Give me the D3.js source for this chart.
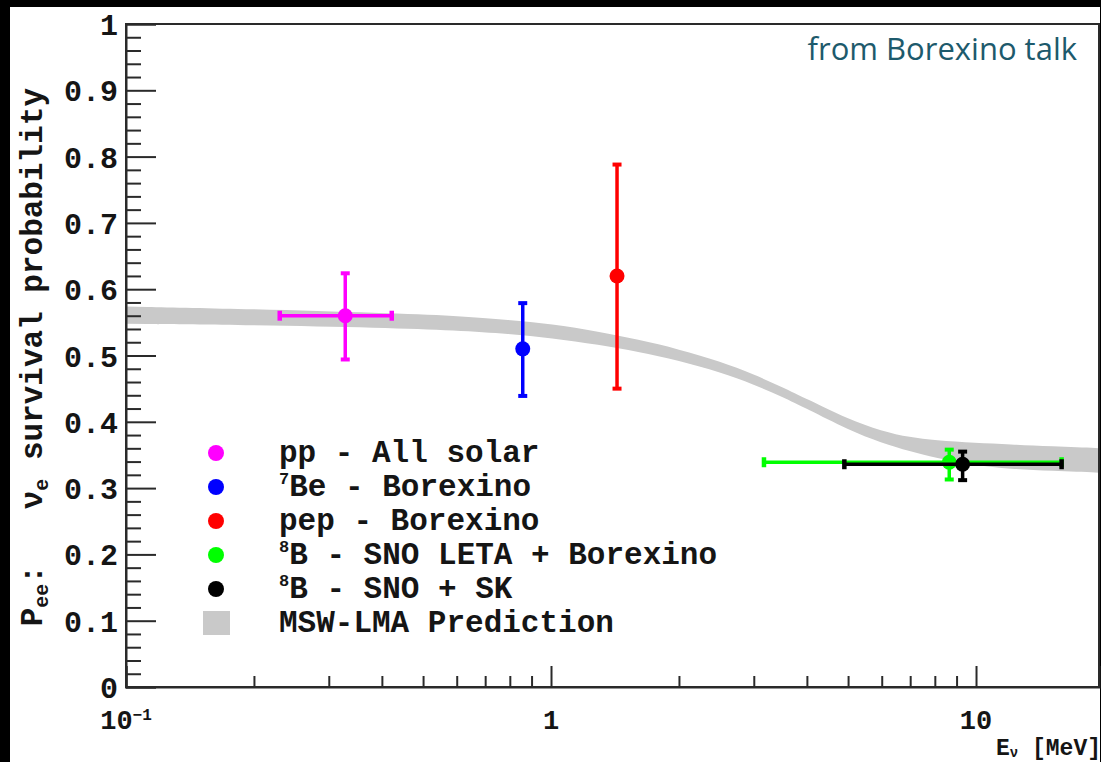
<!DOCTYPE html>
<html>
<head>
<meta charset="utf-8">
<script src="https://cdn.jsdelivr.net/npm/d3@7"></script>
<style>
  html, body { margin: 0; padding: 0; background: #000; }
  svg { display: block; }
  .mono { font-family: "Liberation Mono", "Courier New", "DejaVu Sans Mono", monospace; font-weight: bold; fill: #151515; }
</style>
</head>
<body>
<script>
// Solar neutrino survival probability measurements (energy in MeV)
const seriesNames = ["pp", "7Be", "pep", "8B-LETA", "8B-SNO-SK"];
const energy      = [0.328, 0.858, 1.43, 8.65, 9.30];
const energyLow   = [0.230, null,  null, 3.17, 4.90];
const energyHigh  = [0.422, null,  null, 15.9, 15.9];
const pee         = [0.560, 0.510, 0.620, 0.339, 0.336];
const peeLow      = [0.494, 0.439, 0.450, 0.313, 0.312];
const peeHigh     = [0.624, 0.579, 0.788, 0.358, 0.355];
const colors      = ["#ff00ff", "#0000ff", "#ff0000", "#00ff00", "#000000"];

// MSW-LMA prediction band
const bandEnergy = [0.1, 0.2, 0.4, 0.6, 0.8, 1.0, 1.3, 1.6, 2.0, 2.5, 3.0, 3.5, 4.0, 5.0, 6.0, 7.0, 8.0, 10, 12, 15, 20];
const bandLow    = [0.548, 0.546, 0.542, 0.538, 0.5325, 0.5265, 0.516, 0.506, 0.4925, 0.475, 0.4565, 0.4375, 0.4195, 0.388, 0.368, 0.3555, 0.346, 0.334, 0.329, 0.326, 0.323];
const bandHigh   = [0.574, 0.570, 0.564, 0.560, 0.5535, 0.5475, 0.536, 0.524, 0.5095, 0.491, 0.4715, 0.4525, 0.4345, 0.404, 0.386, 0.3765, 0.372, 0.368, 0.366, 0.363, 0.360];

// Axis ticks and labels
const yMajorTicks = [0, 0.1, 0.2, 0.3, 0.4, 0.5, 0.6, 0.7, 0.8, 0.9, 1];
const yTickLabels = ["0", "0.1", "0.2", "0.3", "0.4", "0.5", "0.6", "0.7", "0.8", "0.9", "1"];
const xMajorTicks = [0.1, 1, 10];
const xMinorTicks = [0.2, 0.3, 0.4, 0.5, 0.6, 0.7, 0.8, 0.9, 2, 3, 4, 5, 6, 7, 8, 9];

// Legend
const legendLabels = [
  [["pp - All solar"]],
  [["7", "sup"], ["Be - Borexino"]],
  [["pep - Borexino"]],
  [["8", "sup"], ["B - SNO LETA + Borexino"]],
  [["8", "sup"], ["B - SNO + SK"]]
];
const bandLabel = "MSW-LMA Prediction";

const W = 1101, H = 762;
const L = 126, R = 1099, T = 24, B = 687;

const svg = d3.select("body").append("svg").attr("width", W).attr("height", H);

// black surround and white canvas
svg.append("rect").attr("width", W).attr("height", H).attr("fill", "#000");
svg.append("rect").attr("x", 10).attr("y", 7).attr("width", 1090).attr("height", H - 7).attr("fill", "#fff");

const x = d3.scaleLog().domain([0.1, 19.47]).range([L, R]);
const y = d3.scaleLinear().domain([0, 1]).range([B, T]);

svg.append("clipPath").attr("id", "frame")
  .append("rect").attr("x", L).attr("y", T).attr("width", R - L).attr("height", B - T);

// prediction band
const band = bandEnergy.map((e, i) => ({ e, lo: bandLow[i], hi: bandHigh[i] }));
svg.append("path")
  .datum(band)
  .attr("clip-path", "url(#frame)")
  .attr("fill", "#c9c9c9")
  .attr("d", d3.area().x(d => x(d.e)).y0(d => y(d.lo)).y1(d => y(d.hi)).curve(d3.curveBasis));

// data points with error bars
const pts = seriesNames.map((n, i) => ({
  n, e: energy[i], eLo: energyLow[i], eHi: energyHigh[i],
  p: pee[i], pLo: peeLow[i], pHi: peeHigh[i], c: colors[i]
}));
const gp = svg.append("g");
pts.forEach(d => {
  const g = gp.append("g").attr("stroke", d.c).attr("fill", d.c);
  const cx = x(d.e), cy = y(d.p);
  if (d.eLo != null) {
    g.append("line").attr("x1", x(d.eLo)).attr("x2", x(d.eHi)).attr("y1", cy).attr("y2", cy).attr("stroke-width", 3.5);
    [d.eLo, d.eHi].forEach(v => g.append("line")
      .attr("x1", x(v)).attr("x2", x(v)).attr("y1", cy - 5).attr("y2", cy + 5).attr("stroke-width", 4.5));
  }
  g.append("line").attr("x1", cx).attr("x2", cx).attr("y1", y(d.pLo)).attr("y2", y(d.pHi)).attr("stroke-width", 3.5);
  [d.pLo, d.pHi].forEach(v => g.append("line")
    .attr("x1", cx - 4.5).attr("x2", cx + 4.5).attr("y1", y(v)).attr("y2", y(v)).attr("stroke-width", 4));
  g.append("circle").attr("cx", cx).attr("cy", cy).attr("r", 7.5).attr("stroke", "none");
});

// frame
svg.append("rect").attr("x", L).attr("y", T).attr("width", R - L).attr("height", B - T)
  .attr("fill", "none").attr("stroke", "#2a2a2a").attr("stroke-width", 2);

// y axis
const yMinor = d3.range(0, 101, 2).map(v => v / 100).filter(v => yMajorTicks.indexOf(v) < 0);
svg.append("g").attr("transform", `translate(${L},0)`)
  .call(d3.axisLeft(y).tickValues(yMinor).tickSize(-15).tickFormat(""))
  .call(g => g.select(".domain").remove())
  .call(g => g.selectAll("line").attr("stroke", "#2a2a2a").attr("stroke-width", 2));
svg.append("g").attr("transform", `translate(${L},0)`)
  .call(d3.axisLeft(y).tickValues(yMajorTicks).tickSize(-30).tickPadding(8)
    .tickFormat((d, i) => yTickLabels[i]))
  .call(g => g.select(".domain").attr("stroke", "#2a2a2a").attr("stroke-width", 2))
  .call(g => g.selectAll("line").attr("stroke", "#2a2a2a").attr("stroke-width", 2))
  .call(g => g.selectAll("text").attr("class", "mono").attr("font-size", 30).attr("dy", "0.35em"));

// x axis
svg.append("g").attr("transform", `translate(0,${B})`)
  .call(d3.axisBottom(x).tickValues(xMinorTicks).tickSize(-11).tickFormat(""))
  .call(g => g.select(".domain").remove())
  .call(g => g.selectAll("line").attr("stroke", "#2a2a2a").attr("stroke-width", 2));
svg.append("g").attr("transform", `translate(0,${B})`)
  .call(d3.axisBottom(x).tickValues(xMajorTicks).tickSize(-21).tickFormat(""))
  .call(g => g.select(".domain").attr("stroke", "#2a2a2a").attr("stroke-width", 2))
  .call(g => g.selectAll("line").attr("stroke", "#2a2a2a").attr("stroke-width", 2));

xMajorTicks.forEach(v => {
  const t = svg.append("text").attr("class", "mono").attr("font-size", 27)
    .attr("x", x(v)).attr("y", 729).attr("text-anchor", "middle");
  const ex = Math.round(Math.log10(v));
  if (ex < 0) {
    t.append("tspan").text("10");
    t.append("tspan").attr("font-size", 16).attr("dy", -9).text("\u2212" + Math.abs(ex));
  } else {
    t.text(String(Math.pow(10, ex)));
  }
});

// axis titles
const xt = svg.append("text").attr("class", "mono").attr("font-size", 23)
  .attr("x", R + 2).attr("y", 755).attr("text-anchor", "end");
xt.append("tspan").text("E");
xt.append("tspan").attr("font-size", 14).attr("dy", 2).text("\u03bd");
xt.append("tspan").attr("dy", -2).text(" [MeV]");

const yt = svg.append("text").attr("class", "mono").attr("font-size", 31)
  .attr("transform", "translate(42,88) rotate(-90)").attr("text-anchor", "end")
  .attr("xml:space", "preserve").style("white-space", "pre");
yt.append("tspan").text("P");
yt.append("tspan").attr("font-size", 20).attr("dy", 6).text("ee");
yt.append("tspan").attr("dy", -6).text(":   ");
yt.append("tspan").text("\u03bd");
yt.append("tspan").attr("font-size", 20).attr("dy", 6).text("e");
yt.append("tspan").attr("dy", -6).text(" survival probability");

// legend
const lg = svg.append("g");
legendLabels.forEach((parts, i) => {
  const cy = 453 + i * 34;
  lg.append("circle").attr("cx", 216).attr("cy", cy).attr("r", 8).attr("fill", colors[i]);
  const t = lg.append("text").attr("class", "mono").attr("font-size", 31).attr("x", 279).attr("y", cy + 9);
  parts.forEach(p => {
    if (p[1] === "sup") t.append("tspan").attr("font-size", 17).attr("dy", -12).text(p[0]);
    else t.append("tspan").attr("dy", parts.length > 1 ? 12 : 0).text(p[0]);
  });
});
{
  const cy = 453 + 5 * 34;
  lg.append("rect").attr("x", 203).attr("y", cy - 12).attr("width", 27).attr("height", 24).attr("fill", "#c9c9c9");
  lg.append("text").attr("class", "mono").attr("font-size", 31).attr("x", 279).attr("y", cy + 9).text(bandLabel);
}

// source note
svg.append("text").attr("x", 1077).attr("y", 60).attr("text-anchor", "end")
  .attr("font-family", "'Open Sans', 'DejaVu Sans', sans-serif").attr("font-size", 31)
  .attr("fill", "#1d5a6c").text("from Borexino talk");
</script>
</body>
</html>
